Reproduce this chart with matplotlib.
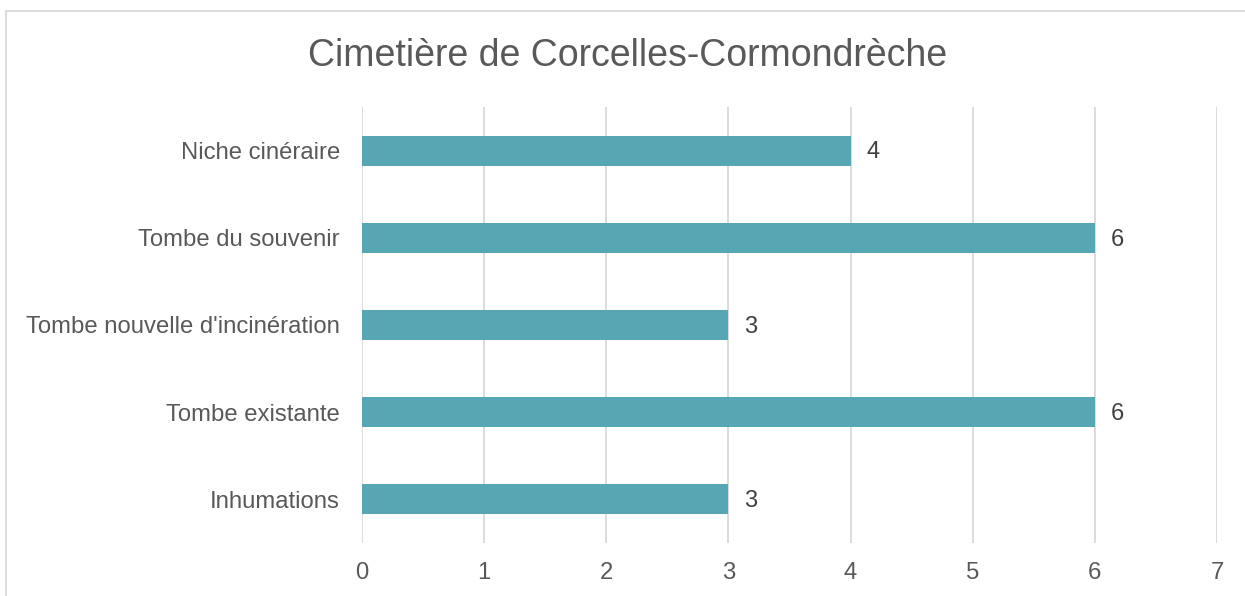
import matplotlib.pyplot as plt
from matplotlib.lines import Line2D

plt.rcParams['font.family'] = ['Liberation Sans', 'DejaVu Sans']

categories = ['Inhumations', 'Tombe existante', "Tombe nouvelle d'incinération",
              'Tombe du souvenir', 'Niche cinéraire']
values = [3, 6, 3, 6, 4]
xticks = [0, 1, 2, 3, 4, 5, 6, 7]

bar_color = '#57A6B3'
text_color = '#595959'
grid_color = '#D9D9D9'

W, H = 1245, 596
fig = plt.figure(figsize=(W / 100, H / 100), dpi=100)
ax = fig.add_axes([362 / W, 1 - 543 / H, (1217 - 362) / W, (543 - 107) / H])

pos = list(range(len(categories)))
ax.barh(pos, values, height=0.345, color=bar_color, zorder=3)
for p, v in zip(pos, values):
    ax.text(v + 0.13, p - 0.02, str(v), va='center', ha='left',
            fontsize=17, color='#404040')

ax.set_xlim(0, 7)
ax.set_ylim(-0.5, len(categories) - 0.5)
ax.set_xticks(xticks)
ax.set_xticklabels([str(t) for t in xticks])
ax.set_yticks(pos)
ax.set_yticklabels(categories)
ax.grid(axis='x', color=grid_color, linewidth=1.3, zorder=0)
ax.tick_params(axis='both', length=0, labelsize=17.2, labelcolor=text_color)
ax.tick_params(axis='x', pad=14)
ax.tick_params(axis='y', pad=16)
for s in ax.spines.values():
    s.set_visible(False)

fig.text(628 / W, 1 - 56 / H, 'Cimetière de Corcelles-Cormondrèche',
         ha='center', va='center', fontsize=27, color=text_color)

# outer chart frame (only left and top edges visible)
fig.add_artist(Line2D([6 / W, 6 / W], [0, 1 - 11 / H], color=grid_color,
                      linewidth=1.3, transform=fig.transFigure))
fig.add_artist(Line2D([6 / W, 1], [1 - 11 / H, 1 - 11 / H], color=grid_color,
                      linewidth=1.3, transform=fig.transFigure))

fig.savefig('out.png', dpi=100)
